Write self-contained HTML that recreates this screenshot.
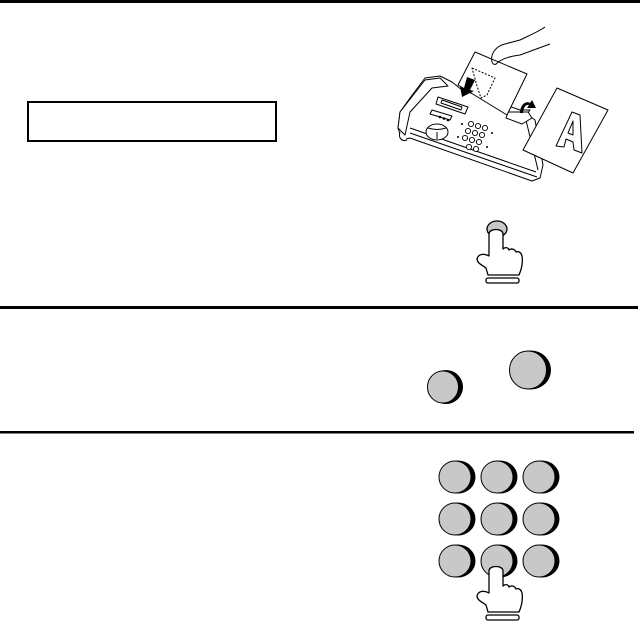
<!DOCTYPE html>
<html><head><meta charset="utf-8"><style>
html,body{margin:0;padding:0;background:#fff;width:640px;height:627px;overflow:hidden}
</style></head><body>
<svg width="640" height="627" viewBox="0 0 640 627" xmlns="http://www.w3.org/2000/svg">
<defs>
<g id="hand" fill="#fff" stroke="#000" stroke-width="1.3" stroke-linejoin="round">
  <path d="M489,234 L489,256 C484,253 478,254 477,259 C477,263 482,265 486,268 L488,275 L519,275 C522,268 523,262 522,256 C521,252 518,251 516,252 C515,249 511,248 509,250 C508,247 505,247 503,249 L503,234 C503,228 489,228 489,234 Z"/>
  <rect x="486" y="278" width="33" height="5" rx="2"/>
</g>
</defs>
<rect x="0" y="0" width="640" height="3" fill="#000"/>
<rect x="0" y="306" width="638" height="3" fill="#000"/>
<rect x="0" y="431" width="634" height="2.5" fill="#000"/>
<rect x="28" y="102" width="248" height="39" fill="none" stroke="#000" stroke-width="2"/>

<!-- fax machine -->
<g fill="#fff" stroke="#000" stroke-width="1" stroke-linejoin="round">
  <!-- body outline -->
  <path d="M398,128 L400,112 L410,98 L425,78 L440,76 L452,82 L462,90 L520,110 L530,110 L527,114 L535,120 L543,165 L540,178 L532,181 L410,138 L402,140 Z"/>
  <!-- handset -->
  <path d="M398,128 L400,112 L425,80 L440,78 L448,86 L432,88 L410,112 L405,135 Z"/>
  <path d="M400,132 C398,138 402,142 407,140"/>
  <!-- crease lines -->
  <path d="M410,128 L536,172 M410,133 L537,177 M525,116 L538,170"/>
  <!-- display -->
  <path d="M438,97 L468,107 L465,114 L436,104 Z"/>
  <path d="M442,100 L462,107 L461,110 L441,103 Z"/>
  <path d="M432,110 L452,116 L450,120 L430,114 Z"/>
  <ellipse cx="437" cy="132" rx="11" ry="8"/>
  <path d="M428,128 C434,130 440,130 446,128 M437,132 L437,139"/>
  <!-- right feeder -->
  <path d="M508,112 L528,112 L532,118 L522,124 L506,118 Z"/>
  <!-- paper -->
  <path d="M475,52 L527,74 L507,115 L458,85 Z"/>
  <path d="M472,68 L495,78 L487,95 L481,98 L477,86 Z" stroke-dasharray="2,1.5"/>
  <!-- hand -->
  <path d="M492,62 C490,54 496,46 505,44 L520,40 C528,36 538,32 545,27 M497,63 C503,58 512,56 520,55 L550,44" fill="none"/>
  <path d="M492,62 C493,65 496,65 497,63" fill="none"/>
  <!-- A paper -->
  <path d="M557,88 L608,110 L573,173 L523,150 Z"/>
  <path d="M556,146 L572,112 L580,115 L582,153 L574,150 L573,142 L566,139 L564,147 Z M568,133 L573,121 L573,135 Z"/>
</g>
<g fill="#000">
  <path d="M467,77 L475,80 L470,90 L474,91 L462,97 L460,86 L464,88 Z"/>
  <path d="M520,113 C520,105 526,100 530,103 L532,100 L536,108 L527,108 L529,105 C526,104 523,108 523,113 Z"/>
</g>
<g fill="#fff" stroke="#000" stroke-width="0.9">
  <circle cx="471" cy="124" r="2.6"/><circle cx="478" cy="126" r="2.6"/><circle cx="485" cy="128" r="2.6"/>
  <circle cx="468" cy="131" r="2.6"/><circle cx="475" cy="133" r="2.6"/><circle cx="482" cy="135" r="2.6"/>
  <circle cx="465" cy="138" r="2.6"/><circle cx="472" cy="140" r="2.6"/><circle cx="479" cy="142" r="2.6"/>
  <circle cx="469" cy="147" r="2.6"/><circle cx="476" cy="149" r="2.6"/>
</g>
<g fill="#000">
  <circle cx="462" cy="124" r="1"/><circle cx="492" cy="133" r="1"/><circle cx="458" cy="137" r="1"/><circle cx="487" cy="147" r="1"/>
  <circle cx="440" cy="117" r="1.3"/><circle cx="444" cy="118.5" r="1.3"/><circle cx="448" cy="120" r="1.3"/>
</g>

<!-- start button with hand -->
<ellipse cx="497" cy="229" rx="10" ry="8" fill="#c8c8c8" stroke="#000" stroke-width="1.3"/>
<use href="#hand"/>

<!-- section 2 buttons -->
<ellipse cx="446" cy="387" rx="17" ry="17" fill="#000"/>
<ellipse cx="443" cy="387" rx="15.5" ry="16" fill="#c8c8c8" stroke="#000" stroke-width="1"/>
<ellipse cx="531" cy="370" rx="20" ry="19.5" fill="#000"/>
<ellipse cx="528" cy="370" rx="18.5" ry="19" fill="#c8c8c8" stroke="#000" stroke-width="1"/>

<!-- keypad -->
<g>
  <g id="k"><ellipse cx="458" cy="477" rx="17.5" ry="16.5" fill="#000"/><ellipse cx="455" cy="477" rx="16" ry="16" fill="#c8c8c8" stroke="#000" stroke-width="1"/></g>
  <use href="#k" x="42"/><use href="#k" x="84"/>
  <use href="#k" y="42"/><use href="#k" x="42" y="42"/><use href="#k" x="84" y="42"/>
  <use href="#k" y="84"/><use href="#k" x="42" y="84"/><use href="#k" x="84" y="84"/>
</g>
<use href="#hand" transform="translate(0,337)"/>
</svg>
</body></html>
